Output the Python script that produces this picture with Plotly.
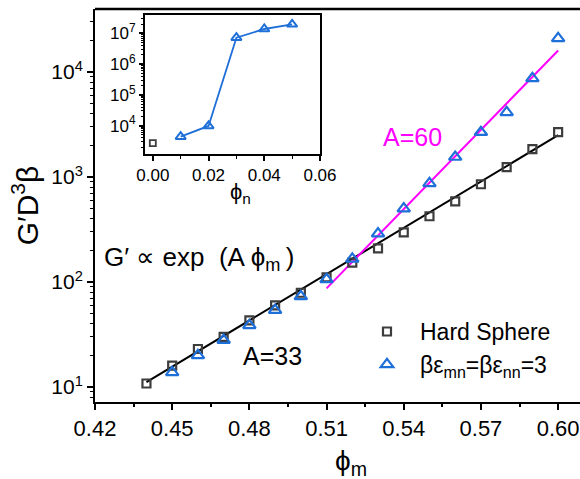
import plotly.graph_objects as go

# Volume fraction of the matrix particles
phi_m = [0.44, 0.45, 0.46, 0.47, 0.48, 0.49, 0.50, 0.51, 0.52,
         0.53, 0.54, 0.55, 0.56, 0.57, 0.58, 0.59, 0.60]
# Reduced storage modulus, hard-sphere reference
g_hard = [10.8, 16, 23, 30, 43, 60, 79, 111, 153,
          209, 297, 423, 587, 853, 1240, 1840, 2670]

# Reduced storage modulus with attraction (starts at 0.45)
phi_m_att = [0.45, 0.46, 0.47, 0.48, 0.49, 0.50, 0.51, 0.52,
             0.53, 0.54, 0.55, 0.56, 0.57, 0.58, 0.59, 0.60]
g_att = [13.8, 20, 28, 38.7, 54, 73, 106, 166,
         289, 500, 870, 1550, 2670, 4130, 8700, 20900]

# Exponential fits (end points of straight lines on the log scale)
fit33_x = [0.44, 0.60]
fit33_y = [11.1, 2500]
fit60_x = [0.51, 0.60]
fit60_y = [87, 16000]

# Inset: modulus versus phi_n at phi_m = 0.60
phi_n_hs = [0.00]
g_n_hs = [2700]
phi_n = [0.01, 0.02, 0.03, 0.04, 0.05]
g_n = [4400, 9800, 7.2e6, 1.38e7, 1.95e7]

main_ytickvals = [10, 100, 1000, 10000]
main_yticktext = ["10<sup>1</sup>", "10<sup>2</sup>", "10<sup>3</sup>", "10<sup>4</sup>"]
main_xtickvals = [0.42, 0.45, 0.48, 0.51, 0.54, 0.57, 0.60]
main_xticktext = ["0.42", "0.45", "0.48", "0.51", "0.54", "0.57", "0.60"]
inset_ytickvals = [1e4, 1e5, 1e6, 1e7]
inset_yticktext = ["10<sup>4</sup>", "10<sup>5</sup>", "10<sup>6</sup>", "10<sup>7</sup>"]
inset_xtickvals = [0.00, 0.02, 0.04, 0.06]
inset_xticktext = ["0.00", "0.02", "0.04", "0.06"]

FONT = "Liberation Sans, Arial, sans-serif"
GRAY = "#3d3d3d"
BLUE = "#1f6fd8"
MAGENTA = "#ff00ff"

fig = go.Figure()

fig.add_trace(go.Scatter(x=fit33_x, y=fit33_y, mode="lines",
                         line=dict(color="black", width=2), showlegend=False))
fig.add_trace(go.Scatter(x=fit60_x, y=fit60_y, mode="lines",
                         line=dict(color=MAGENTA, width=2), showlegend=False))
fig.add_trace(go.Scatter(x=phi_m, y=g_hard, mode="markers", name="Hard Sphere",
                         marker=dict(symbol="square-open", size=8, color=GRAY,
                                     line=dict(width=2.2, color=GRAY))))
fig.add_trace(go.Scatter(x=phi_m_att, y=g_att, mode="markers",
                         name="βε<sub>mn</sub>=βε<sub>nn</sub>=3",
                         marker=dict(symbol="triangle-up-open", size=11, color=BLUE,
                                     line=dict(width=2.2, color=BLUE))))

# Inset traces
fig.add_trace(go.Scatter(x=phi_n_hs, y=g_n_hs, mode="markers", xaxis="x2", yaxis="y2",
                         showlegend=False,
                         marker=dict(symbol="square-open", size=6, color=GRAY,
                                     line=dict(width=1.8, color=GRAY))))
fig.add_trace(go.Scatter(x=phi_n, y=g_n, mode="lines+markers", xaxis="x2", yaxis="y2",
                         showlegend=False,
                         line=dict(color=BLUE, width=1.8),
                         marker=dict(symbol="triangle-up-open", size=9, color=BLUE,
                                     line=dict(width=2, color=BLUE))))

axis_common = dict(showline=True, linecolor="black", linewidth=2, ticks="outside",
                   tickcolor="black", tickwidth=1.5, showgrid=False, zeroline=False,
                   automargin=False)

fig.update_layout(
    width=580, height=479,
    margin=dict(l=95, r=0, t=9, b=77),
    paper_bgcolor="white", plot_bgcolor="white",
    font=dict(family=FONT, color="black"),
    xaxis=dict(**axis_common, range=[0.42, 0.6085], tickvals=main_xtickvals,
               ticktext=main_xticktext, ticklen=6, tickfont=dict(size=22),
               minor=dict(ticks="outside", ticklen=3, tickwidth=1.5, tickcolor="black",
                          tick0=0.42, dtick=0.015)),
    yaxis=dict(**axis_common, type="log", range=[0.857, 4.6], tickvals=main_ytickvals,
               ticktext=main_yticktext, ticklen=6, tickfont=dict(size=21),
               minor=dict(ticks="outside", ticklen=3, tickwidth=1.2, tickcolor="black",
                          dtick="D1"),
               title=dict(text="G′D<sup>3</sup>β", font=dict(size=30), standoff=4)),
    xaxis2=dict(**axis_common, anchor="y2", domain=[0.1031, 0.4639], mirror=True,
                range=[-0.0028, 0.06], tickvals=inset_xtickvals, ticktext=inset_xticktext,
                ticklen=5, tickfont=dict(size=17),
                minor=dict(ticks="outside", ticklen=3, tickwidth=1.2, tickcolor="black",
                           tick0=0, dtick=0.01)),
    yaxis2=dict(**axis_common, anchor="x2", domain=[0.631, 0.9847], mirror=True,
                type="log", range=[3.08, 7.594], tickvals=inset_ytickvals,
                ticktext=inset_yticktext, ticklen=4, tickfont=dict(size=17),
                minor=dict(ticks="outside", ticklen=2, tickwidth=1, tickcolor="black",
                           dtick="D1")),
    legend=dict(x=0.534, y=0.234, xanchor="left", yanchor="top", itemwidth=56,
                bgcolor="rgba(0,0,0,0)", font=dict(size=23), tracegroupgap=0),
    shapes=[dict(type="line", xref="paper", yref="paper", x0=0, x1=1, y0=1, y1=1,
                 line=dict(color="black", width=2.5))],
    annotations=[
        # x-axis titles of the main panel and of the inset
        dict(text="ϕ<sub>m</sub>", xref="paper", yref="paper", x=0.528, y=-0.153,
             xanchor="center", yanchor="middle", showarrow=False,
             font=dict(size=28, color="black")),
        dict(text="ϕ<sub>n</sub>", xref="paper", yref="paper", x=0.300, y=0.533,
             xanchor="center", yanchor="middle", showarrow=False,
             font=dict(size=22, color="black")),
        dict(text="A=60", xref="paper", yref="paper", x=0.654, y=0.674,
             xanchor="center", yanchor="middle",
             showarrow=False, font=dict(size=25, color=MAGENTA)),
        dict(text="A=33", xref="paper", yref="paper", x=0.367, y=0.117,
             xanchor="center", yanchor="middle",
             showarrow=False, font=dict(size=25, color="black")),
        dict(text="G′ ∝ exp\u00a0 (A ϕ<sub>m</sub>\u2009)", xref="paper", yref="paper",
             x=0.0145, y=0.366, xanchor="left", yanchor="middle",
             showarrow=False, font=dict(size=26, color="black")),
    ],
)

fig.write_html("out.html")
